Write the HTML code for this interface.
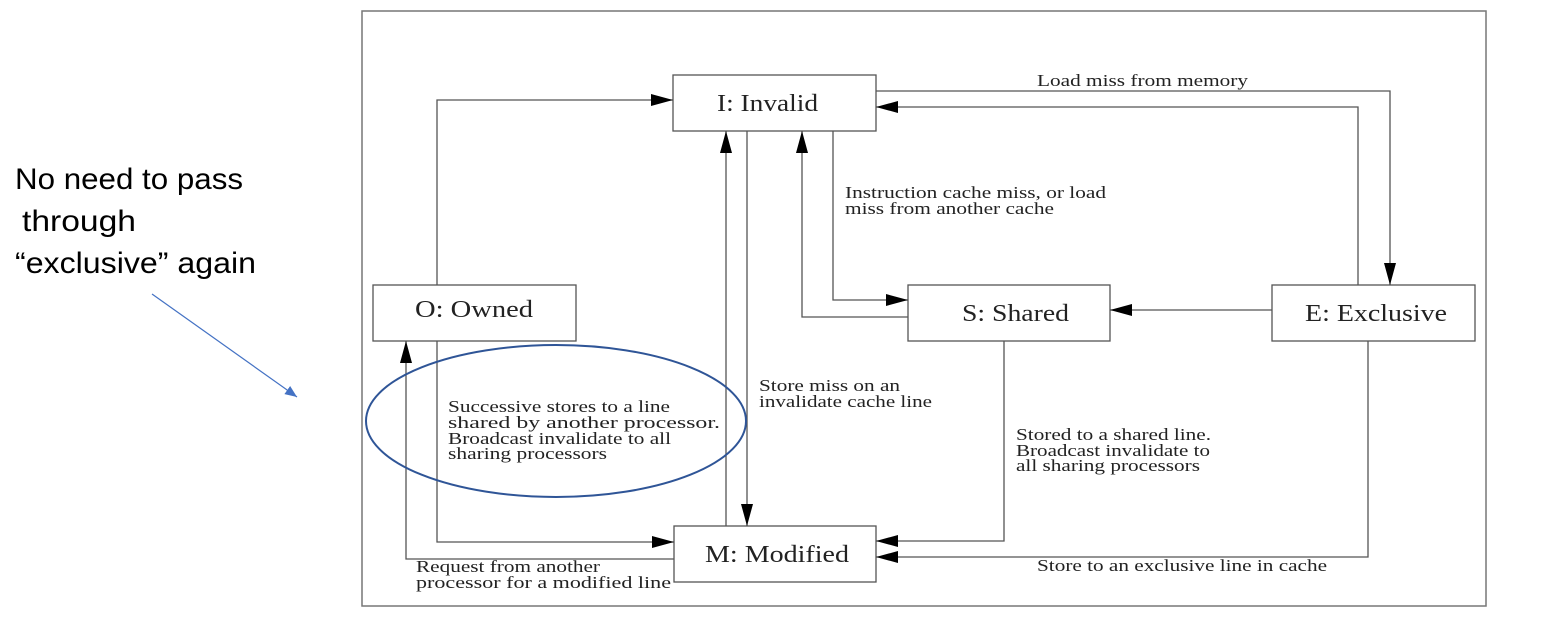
<!DOCTYPE html>
<html><head><meta charset="utf-8"><style>
html,body{margin:0;padding:0;background:#fff;width:1567px;height:623px;overflow:hidden}
svg{display:block}
.s{font-family:"Liberation Serif",serif;fill:#222}
</style></head><body>
<svg width="1567" height="623" viewBox="0 0 1567 623" xmlns="http://www.w3.org/2000/svg">
<defs>
<marker id="a" markerWidth="22" markerHeight="12" refX="22" refY="6" orient="auto" markerUnits="userSpaceOnUse"><path d="M0,0 L22,6 L0,12 z" fill="#000"/></marker>
<marker id="b" markerWidth="12" markerHeight="10" refX="12" refY="5" orient="auto" markerUnits="userSpaceOnUse"><path d="M0,0 L12,5 L0,10 z" fill="#4472c4"/></marker>
</defs>
<rect x="362" y="11" width="1124" height="595" fill="none" stroke="#777" stroke-width="1.5"/>
<g fill="#fff" stroke="#555" stroke-width="1.3">
<rect x="673" y="75" width="203" height="56"/>
<rect x="373" y="285" width="203" height="56"/>
<rect x="908" y="285" width="202" height="56"/>
<rect x="1272" y="285" width="203" height="56"/>
<rect x="674" y="526" width="202" height="56"/>
</g>
<g class="s" font-size="24">
<text x="717" y="111" textLength="101" lengthAdjust="spacingAndGlyphs">I: Invalid</text>
<text x="415" y="317" textLength="118" lengthAdjust="spacingAndGlyphs">O: Owned</text>
<text x="962" y="321" textLength="107" lengthAdjust="spacingAndGlyphs">S: Shared</text>
<text x="1305" y="321" textLength="142" lengthAdjust="spacingAndGlyphs">E: Exclusive</text>
<text x="705" y="562" textLength="144" lengthAdjust="spacingAndGlyphs">M: Modified</text>
</g>
<g fill="none" stroke="#555" stroke-width="1.3">
<path d="M437,285 V100 H673" marker-end="url(#a)"/>
<path d="M726,526 V131" marker-end="url(#a)"/>
<path d="M747,131 V526" marker-end="url(#a)"/>
<path d="M908,317 H802 V131" marker-end="url(#a)"/>
<path d="M833,131 V300 H908" marker-end="url(#a)"/>
<path d="M876,91 H1390 V285" marker-end="url(#a)"/>
<path d="M1358,285 V107 H876" marker-end="url(#a)"/>
<path d="M1272,310 H1110" marker-end="url(#a)"/>
<path d="M1004,341 V541 H876" marker-end="url(#a)"/>
<path d="M1368,341 V557 H876" marker-end="url(#a)"/>
<path d="M674,559 H406 V341" marker-end="url(#a)"/>
<path d="M437,341 V542 H674" marker-end="url(#a)"/>
</g>
<g class="s" font-size="17">
<text x="1037" y="86" textLength="211" lengthAdjust="spacingAndGlyphs">Load miss from memory</text>
<text x="845" y="198" textLength="261" lengthAdjust="spacingAndGlyphs">Instruction cache miss, or load</text>
<text x="845" y="214" textLength="209" lengthAdjust="spacingAndGlyphs">miss from another cache</text>
<text x="759" y="391" textLength="141" lengthAdjust="spacingAndGlyphs">Store miss on an</text>
<text x="759" y="407" textLength="173" lengthAdjust="spacingAndGlyphs">invalidate cache line</text>
<text x="448" y="412" textLength="222" lengthAdjust="spacingAndGlyphs">Successive stores to a line</text>
<text x="448" y="428" textLength="272" lengthAdjust="spacingAndGlyphs">shared by another processor.</text>
<text x="448" y="444" textLength="223" lengthAdjust="spacingAndGlyphs">Broadcast invalidate to all</text>
<text x="448" y="459" textLength="159" lengthAdjust="spacingAndGlyphs">sharing processors</text>
<text x="1016" y="440" textLength="195" lengthAdjust="spacingAndGlyphs">Stored to a shared line.</text>
<text x="1016" y="456" textLength="194" lengthAdjust="spacingAndGlyphs">Broadcast invalidate to</text>
<text x="1016" y="471" textLength="184" lengthAdjust="spacingAndGlyphs">all sharing processors</text>
<text x="416" y="572" textLength="184" lengthAdjust="spacingAndGlyphs">Request from another</text>
<text x="416" y="588" textLength="255" lengthAdjust="spacingAndGlyphs">processor for a modified line</text>
<text x="1037" y="571" textLength="290" lengthAdjust="spacingAndGlyphs">Store to an exclusive line in cache</text>
</g>
<ellipse cx="556" cy="421" rx="190" ry="76" fill="none" stroke="#2f5597" stroke-width="2"/>
<g font-family="Liberation Sans, sans-serif" font-size="30" fill="#000">
<text x="15" y="189" textLength="228" lengthAdjust="spacingAndGlyphs">No need to pass</text>
<text x="22" y="231" textLength="114" lengthAdjust="spacingAndGlyphs">through</text>
<text x="15" y="273" textLength="241" lengthAdjust="spacingAndGlyphs">“exclusive” again</text>
</g>
<line x1="152" y1="294" x2="297" y2="397" stroke="#4472c4" stroke-width="1.2" marker-end="url(#b)"/>
</svg>
</body></html>
